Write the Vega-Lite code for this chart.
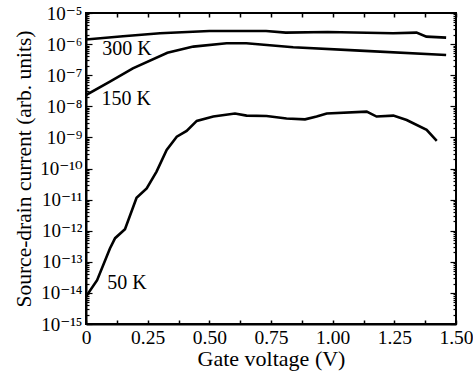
{
  "$schema": "https://vega.github.io/schema/vega-lite/v6.json",
  "width": 370,
  "height": 311,
  "autosize": "none",
  "padding": {"left": 86, "top": 13, "right": 17, "bottom": 49},
  "background": "white",
  "config": {
    "font": "Times New Roman, Liberation Serif, DejaVu Serif, serif",
    "view": {"stroke": "black", "strokeWidth": 2},
    "text": {"font": "Times New Roman, Liberation Serif, DejaVu Serif, serif"},
    "axis": {"grid": false, "domainColor": "black", "domainWidth": 2, "tickColor": "black", "labelColor": "black", "titleColor": "black", "labelFont": "Times New Roman, Liberation Serif, DejaVu Serif, serif", "titleFont": "Times New Roman, Liberation Serif, DejaVu Serif, serif", "titleFontWeight": "normal", "labelBound": false, "labelFlush": false}
  },
  "datasets": {
    "curves": [
      {"T": "300 K", "V": 0, "I": 1.41e-6},
      {"T": "300 K", "V": 0.15, "I": 1.78e-6},
      {"T": "300 K", "V": 0.30, "I": 2.24e-6},
      {"T": "300 K", "V": 0.50, "I": 2.63e-6},
      {"T": "300 K", "V": 0.73, "I": 2.63e-6},
      {"T": "300 K", "V": 0.81, "I": 2.34e-6},
      {"T": "300 K", "V": 0.98, "I": 2.45e-6},
      {"T": "300 K", "V": 1.245, "I": 2.24e-6},
      {"T": "300 K", "V": 1.34, "I": 2.34e-6},
      {"T": "300 K", "V": 1.38, "I": 1.74e-6},
      {"T": "300 K", "V": 1.46, "I": 1.62e-6},
      {"T": "150 K", "V": 0, "I": 2.29e-8},
      {"T": "150 K", "V": 0.097, "I": 6.17e-8},
      {"T": "150 K", "V": 0.19, "I": 1.66e-7},
      {"T": "150 K", "V": 0.33, "I": 5.25e-7},
      {"T": "150 K", "V": 0.435, "I": 8.32e-7},
      {"T": "150 K", "V": 0.57, "I": 1.07e-6},
      {"T": "150 K", "V": 0.65, "I": 1.07e-6},
      {"T": "150 K", "V": 0.84, "I": 7.94e-7},
      {"T": "150 K", "V": 1.11, "I": 6.17e-7},
      {"T": "150 K", "V": 1.46, "I": 4.47e-7},
      {"T": "50 K", "V": 0, "I": 7.6e-15},
      {"T": "50 K", "V": 0.045, "I": 2.57e-14},
      {"T": "50 K", "V": 0.097, "I": 2.69e-13},
      {"T": "50 K", "V": 0.118, "I": 5.75e-13},
      {"T": "50 K", "V": 0.158, "I": 1.12e-12},
      {"T": "50 K", "V": 0.205, "I": 1.15e-11},
      {"T": "50 K", "V": 0.246, "I": 2.29e-11},
      {"T": "50 K", "V": 0.286, "I": 7.94e-11},
      {"T": "50 K", "V": 0.327, "I": 3.98e-10},
      {"T": "50 K", "V": 0.368, "I": 1.05e-9},
      {"T": "50 K", "V": 0.408, "I": 1.62e-9},
      {"T": "50 K", "V": 0.449, "I": 3.39e-9},
      {"T": "50 K", "V": 0.516, "I": 4.68e-9},
      {"T": "50 K", "V": 0.604, "I": 5.89e-9},
      {"T": "50 K", "V": 0.651, "I": 5.01e-9},
      {"T": "50 K", "V": 0.732, "I": 4.90e-9},
      {"T": "50 K", "V": 0.813, "I": 4.07e-9},
      {"T": "50 K", "V": 0.888, "I": 3.80e-9},
      {"T": "50 K", "V": 0.935, "I": 4.68e-9},
      {"T": "50 K", "V": 0.976, "I": 5.89e-9},
      {"T": "50 K", "V": 1.138, "I": 6.76e-9},
      {"T": "50 K", "V": 1.178, "I": 4.68e-9},
      {"T": "50 K", "V": 1.246, "I": 5.01e-9},
      {"T": "50 K", "V": 1.30, "I": 3.63e-9},
      {"T": "50 K", "V": 1.381, "I": 1.74e-9},
      {"T": "50 K", "V": 1.422, "I": 7.76e-10}
    ],
    "labels": [
      {"T": "300 K", "V": 0.166, "I": 6.76e-7},
      {"T": "150 K", "V": 0.163, "I": 1.70e-8},
      {"T": "50 K", "V": 0.166, "I": 2.09e-14}
    ]
  },
  "layer": [
    {
      "data": {"name": "curves"},
      "mark": {"type": "line", "color": "black", "strokeWidth": 2.6, "clip": true},
      "encoding": {
        "x": {"field": "V", "type": "quantitative", "scale": {"domain": [0, 1.5], "nice": false, "zero": false},
          "axis": {"orient": "bottom", "title": "Gate voltage (V)", "titleFontSize": 22, "titleX": 185, "titleY": 34, "titleBaseline": "middle", "titleAlign": "center", "labelFontSize": 19.5, "labelPadding": 8, "tickSize": -4, "tickWidth": 1.5, "labelOverlap": false,
            "values": [0, 0.125, 0.25, 0.375, 0.5, 0.625, 0.75, 0.875, 1, 1.125, 1.25, 1.375, 1.5],
            "labelExpr": "datum.value == 0 ? '0' : (abs(datum.value*4 - round(datum.value*4)) > 0.01 ? '' : format(datum.value, '.2f'))"}},
        "y": {"field": "I", "type": "quantitative", "scale": {"type": "log", "domain": [1e-15, 1e-5], "nice": false},
          "axis": {"orient": "left", "title": "Source-drain current (arb. units)", "titleFontSize": 21.5, "titleX": -62, "titleY": 155.5, "titleBaseline": "middle", "titleAlign": "center", "labelFontSize": 19, "labelPadding": 10, "labelOverlap": false, "tickWidth": 1.2,
            "tickSize": {"condition": {"test": "abs(log(datum.value)/LN10 - round(log(datum.value)/LN10)) < 0.01", "value": -6}, "value": -3},
            "values": [1e-15,2e-15,3e-15,4e-15,5e-15,6e-15,7e-15,8e-15,9e-15,1e-14,2e-14,3e-14,4e-14,5e-14,6e-14,7e-14,8e-14,9e-14,1e-13,2e-13,3e-13,4e-13,5e-13,6e-13,7e-13,8e-13,9e-13,1e-12,2e-12,3e-12,4e-12,5e-12,6e-12,7e-12,8e-12,9e-12,1e-11,2e-11,3e-11,4e-11,5e-11,6e-11,7e-11,8e-11,9e-11,1e-10,2e-10,3e-10,4e-10,5e-10,6e-10,7e-10,8e-10,9e-10,1e-9,2e-9,3e-9,4e-9,5e-9,6e-9,7e-9,8e-9,9e-9,1e-8,2e-8,3e-8,4e-8,5e-8,6e-8,7e-8,8e-8,9e-8,1e-7,2e-7,3e-7,4e-7,5e-7,6e-7,7e-7,8e-7,9e-7,1e-6,2e-6,3e-6,4e-6,5e-6,6e-6,7e-6,8e-6,9e-6,1e-5],
            "labelExpr": "abs(log(datum.value)/LN10 - round(log(datum.value)/LN10)) > 0.01 ? '' : (round(log(datum.value)/LN10) == -5 ? '10⁻⁵' : round(log(datum.value)/LN10) == -6 ? '10⁻⁶' : round(log(datum.value)/LN10) == -7 ? '10⁻⁷' : round(log(datum.value)/LN10) == -8 ? '10⁻⁸' : round(log(datum.value)/LN10) == -9 ? '10⁻⁹' : round(log(datum.value)/LN10) == -10 ? '10⁻¹⁰' : round(log(datum.value)/LN10) == -11 ? '10⁻¹¹' : round(log(datum.value)/LN10) == -12 ? '10⁻¹²' : round(log(datum.value)/LN10) == -13 ? '10⁻¹³' : round(log(datum.value)/LN10) == -14 ? '10⁻¹⁴' : '10⁻¹⁵')"}},
        "detail": {"field": "T", "type": "nominal"}
      }
    },
    {
      "data": {"name": "labels"},
      "mark": {"type": "text", "fontSize": 20, "color": "black", "align": "center", "baseline": "middle"},
      "encoding": {
        "x": {"field": "V", "type": "quantitative",
          "axis": {"orient": "top", "title": null, "labels": false, "domain": false, "tickSize": -4, "tickWidth": 1.5,
            "values": [0, 0.125, 0.25, 0.375, 0.5, 0.625, 0.75, 0.875, 1, 1.125, 1.25, 1.375, 1.5]}},
        "y": {"field": "I", "type": "quantitative",
          "axis": {"orient": "right", "title": null, "labels": false, "domain": false, "tickWidth": 1.2,
            "tickSize": {"condition": {"test": "abs(log(datum.value)/LN10 - round(log(datum.value)/LN10)) < 0.01", "value": -6}, "value": -3},
            "values": [1e-15,2e-15,3e-15,4e-15,5e-15,6e-15,7e-15,8e-15,9e-15,1e-14,2e-14,3e-14,4e-14,5e-14,6e-14,7e-14,8e-14,9e-14,1e-13,2e-13,3e-13,4e-13,5e-13,6e-13,7e-13,8e-13,9e-13,1e-12,2e-12,3e-12,4e-12,5e-12,6e-12,7e-12,8e-12,9e-12,1e-11,2e-11,3e-11,4e-11,5e-11,6e-11,7e-11,8e-11,9e-11,1e-10,2e-10,3e-10,4e-10,5e-10,6e-10,7e-10,8e-10,9e-10,1e-9,2e-9,3e-9,4e-9,5e-9,6e-9,7e-9,8e-9,9e-9,1e-8,2e-8,3e-8,4e-8,5e-8,6e-8,7e-8,8e-8,9e-8,1e-7,2e-7,3e-7,4e-7,5e-7,6e-7,7e-7,8e-7,9e-7,1e-6,2e-6,3e-6,4e-6,5e-6,6e-6,7e-6,8e-6,9e-6,1e-5]}},
        "text": {"field": "T", "type": "nominal"}
      }
    }
  ],
  "resolve": {"axis": {"x": "independent", "y": "independent"}}
}
